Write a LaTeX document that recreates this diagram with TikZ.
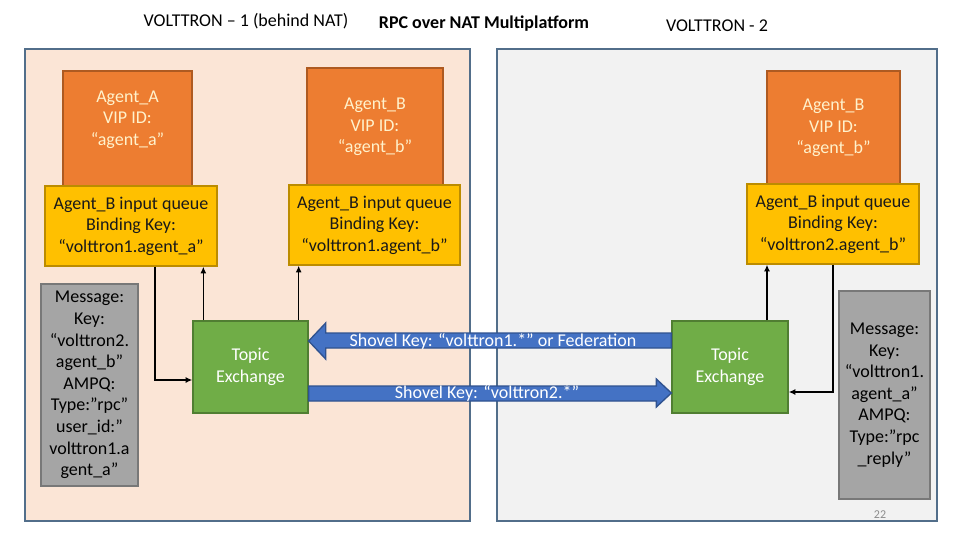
\documentclass[tikz,border=0pt]{standalone}
\usepackage{fontspec}
\setmainfont{Carlito}
\usepackage{xcolor}
\definecolor{panelline}{RGB}{82,110,138}
\definecolor{nearfill}{RGB}{251,229,214}
\definecolor{farfill}{RGB}{242,242,242}
\definecolor{agentorange}{RGB}{237,125,49}
\definecolor{agentline}{RGB}{174,90,33}
\definecolor{agenttext}{RGB}{255,242,204}
\definecolor{queueyellow}{RGB}{255,192,0}
\definecolor{queueline}{RGB}{188,140,0}
\definecolor{exgreen}{RGB}{112,173,71}
\definecolor{exline}{RGB}{80,126,50}
\definecolor{msggray}{RGB}{165,165,165}
\definecolor{msgline}{RGB}{120,120,120}
\definecolor{shovelblue}{RGB}{68,114,196}
\definecolor{shovelline}{RGB}{47,82,143}
\usepackage{tikz}
\usetikzlibrary{arrows.meta, calc}
\tikzset{
  panel/.style={draw=panelline, line width=1.5pt},
  boxtext/.style={
    font=\fontsize{13.5pt}{16.2pt}\selectfont,
    align=center, inner sep=0pt
  },
  agent/.style={
    rectangle, boxtext, draw=agentline, fill=agentorange,
    line width=1pt, text=agenttext
  },
  queue/.style={
    rectangle, boxtext, draw=queueline, fill=queueyellow,
    line width=1pt, text=black!90
  },
  exchange/.style={
    rectangle, boxtext, draw=exline, fill=exgreen,
    minimum height=69pt, line width=1pt, text=white
  },
  message/.style={
    rectangle, boxtext, draw=msgline, fill=msggray,
    line width=1pt, text=black
  },
  shovel/.style={draw=shovelline, fill=shovelblue, line width=1pt},
  shovellabel/.style={boxtext, text=white},
  title/.style={font=\fontsize{13.5pt}{16pt}\selectfont, inner sep=0pt},
  link/.style={line width=1.1pt, -{Latex[length=5pt, width=4.5pt]}},
}

\begin{document}
\begin{tikzpicture}[x=0.75pt, y=-0.75pt]
  \useasboundingbox (0,0) rectangle (960,540);

  % titles
  \node (titleleft)  [title] at (246,21) {VOLTTRON – 1 (behind NAT)};
  \node (titlemid)   [title] at (484,24) {\bfseries RPC over NAT Multiplatform};
  \node (titleright) [title] at (717,26) {VOLTTRON - 2};

  % the two platforms
  \filldraw [panel, fill=nearfill] (25,49)  rectangle (470,521);
  \filldraw [panel, fill=farfill]  (497,49) rectangle (937,521);

  % agents
  \node (agentA)    [agent, minimum width=96.75pt, minimum height=87pt]  at (127.5,129) {Agent\_A\\VIP ID:\\“agent\_a”\\ \mbox{}};
  \node (agentBone) [agent, minimum width=102pt,   minimum height=88.5pt] at (375,127)   {Agent\_B\\VIP ID:\\“agent\_b”};
  \node (agentBtwo) [agent, minimum width=99.75pt, minimum height=85.5pt] at (833.5,128) {Agent\_B\\VIP ID:\\“agent\_b”};

  % input queues
  \node (qA)    [queue, minimum width=129pt,    minimum height=60pt] at (131,226)   {Agent\_B input queue\\Binding Key:\\“volttron1.agent\_a”};
  \node (qBone) [queue, minimum width=128.25pt, minimum height=60pt] at (374.5,225) {Agent\_B input queue\\Binding Key:\\“volttron1.agent\_b”};
  \node (qBtwo) [queue, minimum width=129pt,    minimum height=60pt] at (833,224)   {Agent\_B input queue\\Binding Key:\\“volttron2.agent\_b”};

  % messages
  \node (msgA) [message, minimum width=72.75pt, minimum height=151.5pt] at (89.5,385)
    {Message:\\Key:\\“volttron2.\\agent\_b”\\AMPQ:\\Type:”rpc”\\user\_id:”\\volttron1.a\\gent\_a”};
  \node (msgB) [message, minimum width=68.25pt, minimum height=156pt] at (884.5,395)
    {Message:\\Key:\\“volttron1.\\agent\_a”\\AMPQ:\\Type:”rpc\\\_reply”};

  % exchanges
  \node (exL) [exchange, minimum width=86.25pt] at (250.5,367) {Topic\\Exchange};
  \node (exR) [exchange, minimum width=87pt]    at (730,367)   {Topic\\Exchange};

  % shovels
  \draw [shovel] ($(exR.west)+(0,-34)$) -- ($(exL.east)+(17,-34)$) -- ($(exL.east)+(17,-44)$)
    -- ($(exL.east)+(0,-26)$) -- ($(exL.east)+(17,-8)$) -- ($(exL.east)+(17,-19)$)
    -- ($(exR.west)+(0,-19)$) -- cycle;
  \draw [shovel] ($(exL.east)+(0,19)$) -- ($(exR.west)+(-15,19)$) -- ($(exR.west)+(-15,12)$)
    -- ($(exR.west)+(0,26)$) -- ($(exR.west)+(-15,40)$) -- ($(exR.west)+(-15,34)$)
    -- ($(exL.east)+(0,34)$) -- cycle;
  \node (shovelone) [shovellabel] at ($(exL.east)!0.5!(exR.west)+(3,-26)$) {Shovel Key: “volttron1.*” or Federation};
  \node (shoveltwo) [shovellabel] at ($(exL.east)!0.5!(exR.west)+(-3,26)$) {Shovel Key: “volttron2.*”};

  % queue links
  \draw [link] ($(qA.south)+(24,0)$) |- ($(exL.west)+(0,13)$);
  \draw [link] ($(exL.north west)+(11,0)$) coordinate (upA) -- (upA |- qA.south);
  \draw [link] ($(exL.north east)+(-10,0)$) coordinate (upB) -- (upB |- qBone.south);
  \draw [link] ($(exR.north)+(37,0)$) coordinate (upC) -- (upC |- qBtwo.south);
  \draw [link] (qBtwo.south) |- ($(exR.east)+(0,25)$);

  \node (pagenum) [font=\fontsize{9pt}{10pt}\selectfont, text=black!45] at (880,515) {22};
\end{tikzpicture}
\end{document}
